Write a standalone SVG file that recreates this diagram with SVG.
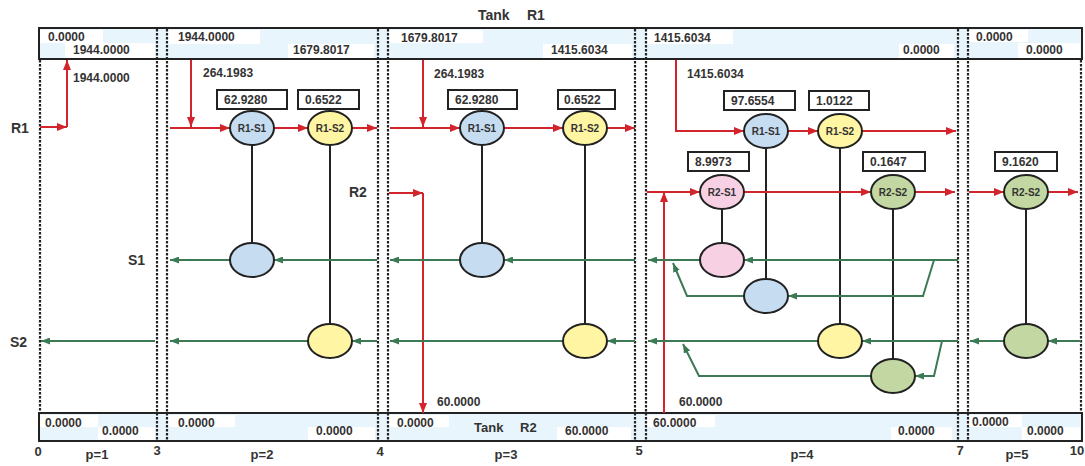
<svg xmlns="http://www.w3.org/2000/svg" width="1085" height="466" viewBox="0 0 1085 466">
<style>
text{font-family:"Liberation Sans",Arial,sans-serif;font-weight:bold;fill:#333}
.v{font-size:12px}
.big{font-size:14px}
.ax{font-size:13px;text-anchor:middle}
.el{font-size:10px;text-anchor:middle}
.e{stroke:#222;stroke-width:2}
.blue{fill:#c5dcf1}
.yel{fill:#fff5a3}
.pink{fill:#f8d0e3}
.grn{fill:#c2d7a1}
.vb{fill:#fff;stroke:#222;stroke-width:2}
.red{fill:none;stroke:#d3242c;stroke-width:2;marker-end:url(#ar)}
.gr{fill:none;stroke:#3b7a55;stroke-width:2;marker-end:url(#ag)}
.bl{fill:none;stroke:#222;stroke-width:2}
.div{stroke:#222;stroke-width:2.2;stroke-dasharray:2.5 1.5;fill:none}
.tank{fill:#e8f5fc}
.wb{fill:#fff}
.frame{fill:none;stroke:#222;stroke-width:2}
</style>
<defs>
<marker id="ar" viewBox="0 0 10 8" refX="10" refY="4" markerWidth="10" markerHeight="8" markerUnits="userSpaceOnUse" orient="auto"><path d="M0,0 L10,4 L0,8 z" fill="#d3242c"/></marker>
<marker id="ag" viewBox="0 0 9 7" refX="9" refY="3.5" markerWidth="9" markerHeight="7" markerUnits="userSpaceOnUse" orient="auto"><path d="M0,0 L9,3.5 L0,7 z" fill="#3b7a55"/></marker>
</defs>

<g id="tank-r1">
<rect class="tank" x="39" y="28" width="1043" height="31"/>
<rect class="wb" x="40" y="30" width="63" height="13"/>
<rect class="wb" x="65" y="43" width="90" height="15"/>
<rect class="wb" x="168" y="30" width="92" height="14"/>
<rect class="wb" x="288" y="44" width="86" height="14"/>
<rect class="wb" x="389" y="30" width="94" height="13"/>
<rect class="wb" x="543" y="44" width="89" height="14"/>
<rect class="wb" x="647" y="30" width="86" height="14"/>
<rect class="wb" x="899" y="44" width="55" height="14"/>
<rect class="wb" x="969" y="30" width="59" height="12"/>
<rect class="wb" x="1018" y="43" width="62" height="15"/>
<text class="big" x="478" y="20">Tank</text>
<text class="big" x="527" y="20">R1</text>
<text class="v" x="48" y="41">0.0000</text>
<text class="v" x="73" y="54">1944.0000</text>
<text class="v" x="178" y="41">1944.0000</text>
<text class="v" x="293" y="54">1679.8017</text>
<text class="v" x="401" y="42">1679.8017</text>
<text class="v" x="551" y="54">1415.6034</text>
<text class="v" x="654" y="42">1415.6034</text>
<text class="v" x="903" y="54">0.0000</text>
<text class="v" x="976" y="41">0.0000</text>
<text class="v" x="1026" y="54">0.0000</text>
</g>

<g id="tank-r2">
<rect class="tank" x="39" y="413" width="1043" height="28"/>
<rect class="wb" x="40" y="415" width="58" height="12"/>
<rect class="wb" x="98" y="427" width="57" height="13"/>
<rect class="wb" x="168" y="415" width="67" height="12"/>
<rect class="wb" x="308" y="427" width="67" height="13"/>
<rect class="wb" x="389" y="415" width="60" height="12"/>
<rect class="wb" x="557" y="427" width="74" height="13"/>
<rect class="wb" x="647" y="415" width="68" height="12"/>
<rect class="wb" x="891" y="427" width="61" height="13"/>
<rect class="wb" x="969" y="415" width="53" height="12"/>
<rect class="wb" x="1022" y="427" width="58" height="13"/>
<text class="v" x="45" y="427">0.0000</text>
<text class="v" x="102" y="435">0.0000</text>
<text class="v" x="178" y="427">0.0000</text>
<text class="v" x="316" y="435">0.0000</text>
<text class="v" x="397" y="427">0.0000</text>
<text x="474" y="432" font-size="13">Tank</text>
<text x="520" y="432" font-size="13">R2</text>
<text class="v" x="565" y="435">60.0000</text>
<text class="v" x="653" y="427">60.0000</text>
<text class="v" x="898" y="435">0.0000</text>
<text class="v" x="972" y="426">0.0000</text>
<text class="v" x="1027" y="435">0.0000</text>
</g>

<g id="dividers">
<line class="div" x1="40" y1="60" x2="40" y2="413"/>
<line class="div" x1="157" y1="29" x2="157" y2="441"/>
<line class="div" x1="167" y1="29" x2="167" y2="441"/>
<line class="div" x1="378" y1="29" x2="378" y2="441"/>
<line class="div" x1="388" y1="29" x2="388" y2="441"/>
<line class="div" x1="635" y1="29" x2="635" y2="441"/>
<line class="div" x1="646" y1="29" x2="646" y2="441"/>
<line class="div" x1="958" y1="29" x2="958" y2="441"/>
<line class="div" x1="968" y1="29" x2="968" y2="441"/>
<line class="div" x1="1081" y1="60" x2="1081" y2="413"/>
<rect class="frame" x="39" y="28" width="1043" height="31"/>
<rect class="frame" x="39" y="413" width="1043" height="28"/>
</g>

<g id="labels">
<text class="big" x="11" y="133">R1</text>
<text class="big" x="349" y="197">R2</text>
<text class="big" x="128" y="265">S1</text>
<text class="big" x="10" y="347">S2</text>
<text class="v" x="73" y="82">1944.0000</text>
<text class="v" x="203" y="77">264.1983</text>
<text class="v" x="434" y="78">264.1983</text>
<text class="v" x="687" y="78">1415.6034</text>
<text class="v" x="437" y="406">60.0000</text>
<text class="v" x="679" y="406">60.0000</text>
<text class="ax" x="38" y="456">0</text>
<text class="ax" x="97" y="459">p=1</text>
<text class="ax" x="157" y="455">3</text>
<text class="ax" x="262" y="459">p=2</text>
<text class="ax" x="380" y="456">4</text>
<text class="ax" x="506" y="459">p=3</text>
<text class="ax" x="639" y="455">5</text>
<text class="ax" x="802" y="459">p=4</text>
<text class="ax" x="960" y="455">7</text>
<text class="ax" x="1017" y="459">p=5</text>
<text class="ax" x="1077" y="455">10</text>
</g>

<g id="connectors">
<path class="bl" d="M252,145 V243 M330,145 V324 M482,145 V243 M585,145 V324 M766,148 V279 M840,148 V324 M722,209 V243 M893,209 V359 M1026,209 V324"/>
<path class="red" d="M40,127 H67"/>
<path class="red" d="M67,127 V60"/>
<path class="red" d="M191,60 V127"/>
<path class="red" d="M170,128 H230"/>
<path class="red" d="M274,128 H308"/>
<path class="red" d="M352,128 H377"/>
<path class="red" d="M423,60 V127"/>
<path class="red" d="M390,128 H460"/>
<path class="red" d="M504,128 H563"/>
<path class="red" d="M607,128 H635"/>
<path class="red" d="M676,60 V131 H744"/>
<path class="red" d="M788,131 H818"/>
<path class="red" d="M862,131 H956"/>
<path class="red" d="M389,193 H423"/>
<path class="red" d="M423,193 V413"/>
<path class="red" d="M647,192 H700"/>
<path class="red" d="M664,413 V192"/>
<path class="red" d="M744,192 H871"/>
<path class="red" d="M915,192 H955"/>
<path class="red" d="M969,192 H1004"/>
<path class="red" d="M1048,192 H1078"/>
<path class="gr" d="M377,260 H274"/>
<path class="gr" d="M230,260 H170"/>
<path class="gr" d="M635,260 H504"/>
<path class="gr" d="M460,260 H390"/>
<path class="gr" d="M958,260 H744"/>
<path class="gr" d="M700,260 H648"/>
<path class="gr" d="M934,260 L923,296 H788"/>
<path class="gr" d="M744,296 H687 L673,263"/>
<path class="gr" d="M155,341 H41"/>
<path class="gr" d="M377,341 H352"/>
<path class="gr" d="M308,341 H170"/>
<path class="gr" d="M635,341 H607"/>
<path class="gr" d="M563,341 H390"/>
<path class="gr" d="M958,341 H862"/>
<path class="gr" d="M818,341 H648"/>
<path class="gr" d="M942,341 L934,376 H915"/>
<path class="gr" d="M871,376 H699 L683,344"/>
<path class="gr" d="M1081,341 H1048"/>
<path class="gr" d="M1004,341 H970"/>
</g>

<g id="p2-r1s1"><rect class="vb" x="217" y="90" width="70" height="19"/><text class="v" x="224" y="104">62.9280</text><ellipse class="e blue" cx="252" cy="128" rx="22" ry="17"/><text class="el" x="252" y="132">R1-S1</text></g>
<g id="p2-r1s2"><rect class="vb" x="298" y="90" width="61" height="19"/><text class="v" x="305" y="104">0.6522</text><ellipse class="e yel" cx="330" cy="128" rx="22" ry="17"/><text class="el" x="330" y="132">R1-S2</text></g>
<g id="p2-s1"><ellipse class="e blue" cx="252" cy="260" rx="22" ry="17"/></g>
<g id="p2-s2"><ellipse class="e yel" cx="330" cy="341" rx="22" ry="17"/></g>

<g id="p3-r1s1"><rect class="vb" x="448" y="90" width="69" height="19"/><text class="v" x="455" y="104">62.9280</text><ellipse class="e blue" cx="482" cy="128" rx="22" ry="17"/><text class="el" x="482" y="132">R1-S1</text></g>
<g id="p3-r1s2"><rect class="vb" x="558" y="90" width="57" height="19"/><text class="v" x="564" y="104">0.6522</text><ellipse class="e yel" cx="585" cy="128" rx="22" ry="17"/><text class="el" x="585" y="132">R1-S2</text></g>
<g id="p3-s1"><ellipse class="e blue" cx="482" cy="260" rx="22" ry="17"/></g>
<g id="p3-s2"><ellipse class="e yel" cx="585" cy="341" rx="22" ry="17"/></g>

<g id="p4-r1s1"><rect class="vb" x="724" y="91" width="71" height="19"/><text class="v" x="731" y="105">97.6554</text><ellipse class="e blue" cx="766" cy="131" rx="22" ry="17"/><text class="el" x="766" y="135">R1-S1</text></g>
<g id="p4-r1s2"><rect class="vb" x="809" y="91" width="60" height="19"/><text class="v" x="816" y="105">1.0122</text><ellipse class="e yel" cx="840" cy="131" rx="22" ry="17"/><text class="el" x="840" y="135">R1-S2</text></g>
<g id="p4-r2s1"><rect class="vb" x="688" y="152" width="61" height="19"/><text class="v" x="695" y="166">8.9973</text><ellipse class="e pink" cx="722" cy="192" rx="22" ry="17"/><text class="el" x="722" y="196">R2-S1</text></g>
<g id="p4-r2s2"><rect class="vb" x="863" y="152" width="62" height="19"/><text class="v" x="870" y="166">0.1647</text><ellipse class="e grn" cx="893" cy="192" rx="22" ry="17"/><text class="el" x="893" y="196">R2-S2</text></g>
<g id="p4-s1-pink"><ellipse class="e pink" cx="722" cy="260" rx="22" ry="17"/></g>
<g id="p4-s1-blue"><ellipse class="e blue" cx="766" cy="296" rx="22" ry="17"/></g>
<g id="p4-s2-yel"><ellipse class="e yel" cx="840" cy="341" rx="22" ry="17"/></g>
<g id="p4-s2-grn"><ellipse class="e grn" cx="893" cy="376" rx="22" ry="17"/></g>

<g id="p5-r2s2"><rect class="vb" x="995" y="152" width="62" height="19"/><text class="v" x="1002" y="166">9.1620</text><ellipse class="e grn" cx="1026" cy="192" rx="22" ry="17"/><text class="el" x="1026" y="196">R2-S2</text></g>
<g id="p5-s2"><ellipse class="e grn" cx="1026" cy="341" rx="22" ry="17"/></g>
</svg>
